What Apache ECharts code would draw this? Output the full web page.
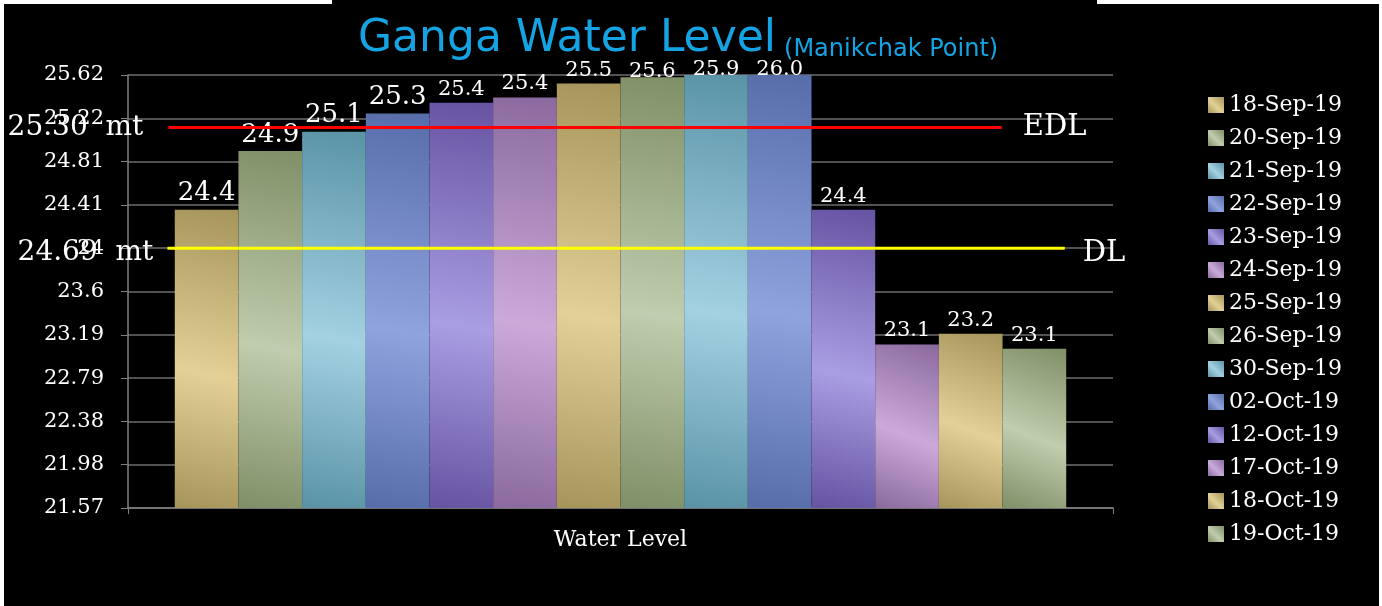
<!DOCTYPE html>
<html>
<head>
<meta charset="utf-8">
<title>Ganga Water Level</title>
<script src="https://cdn.jsdelivr.net/npm/echarts@6/dist/echarts.min.js"></script>
<style>
  html, body { margin: 0; padding: 0; background: #fff; }
  #chart { width: 1382px; height: 606px; }
</style>
</head>
<body>
<div id="chart"></div>
<script>
  // data
  const categories = ['Water Level']
  const dates = ['18-Sep-19', '20-Sep-19', '21-Sep-19', '22-Sep-19', '23-Sep-19', '24-Sep-19', '25-Sep-19',
    '26-Sep-19', '30-Sep-19', '02-Oct-19', '12-Oct-19', '17-Oct-19', '18-Oct-19', '19-Oct-19']
  const levels = [24.36, 24.91, 25.09, 25.26, 25.36, 25.41, 25.54, 25.6, 25.9, 26.0, 24.36, 23.1, 23.2, 23.06]
  const yTickLabels = ['21.57', '21.98', '22.38', '22.79', '23.19', '23.6', '24', '24.41', '24.81', '25.22', '25.62']

  // EDL / DL lines (drawn level, start/end along the plot in %, texts)
  const refNames = ['EDL', 'DL']
  const refLevels = [25.13, 24.0]
  const refStart = [4.1, 4.0]
  const refEnd = [88.7, 95.1]
  const refTexts = ['25.30  mt', '24.69  mt']

  const yMin = parseFloat(yTickLabels[0])
  const yMax = parseFloat(yTickLabels[yTickLabels.length - 1])
  const yInterval = (yMax - yMin) / (yTickLabels.length - 1)

  // dark / light pairs, repeating like the office theme
  const palette = [
    ['#a6955a', '#e2d096'],
    ['#7f8f66', '#c0cdae'],
    ['#5a93a6', '#a3d1e2'],
    ['#566daa', '#8fa3de'],
    ['#6653a2', '#a99de3'],
    ['#8a6a9e', '#c9aad9']
  ]
  const serif = 'DejaVu Serif'

  function barColor(i) {
    const c = palette[i % palette.length]
    return {
      type: 'linear', x: 0, y: 1, x2: 1, y2: 0,
      colorStops: [
        { offset: 0, color: c[0] },
        { offset: 0.45, color: c[1] },
        { offset: 1, color: c[0] }
      ]
    }
  }

  const barSeries = dates.map((d, i) => ({
    name: d,
    type: 'bar',
    xAxisIndex: 0,
    barGap: '0%',
    barCategoryGap: '9.5%',
    clip: true,
    data: [levels[i]],
    itemStyle: { color: barColor(i) },
    label: {
      show: true,
      position: 'top',
      // labels of bars cut at the top sit on the top line
      distance: levels[i] > yMax - 0.05 ? -5 : 3,
      color: '#fff',
      fontFamily: serif,
      fontSize: i < 4 ? 26 : 21,
      formatter: p => p.value.toFixed(1)
    }
  }))

  const lineColors = ['#ff0000', '#ffff00']
  const refSeries = refNames.map((n, i) => ({
    name: n,
    type: 'line',
    xAxisIndex: 1,
    z: 5,
    symbol: 'circle',
    symbolSize: 0.1,
    lineStyle: { color: lineColors[i], width: 3 },
    itemStyle: { color: lineColors[i] },
    silent: true,
    data: [
      { value: [refStart[i], refLevels[i]],
        label: { show: true, position: 'left', distance: i === 0 ? 25 : 14, offset: [0, i === 0 ? 0 : 5],
          formatter: refTexts[i], color: '#fff', fontFamily: serif, fontSize: 28 } },
      { value: [refEnd[i], refLevels[i]],
        label: { show: true, position: 'right', distance: i === 0 ? 21 : 18, offset: [0, i === 0 ? 0 : 5],
          formatter: n, color: '#fff', fontFamily: serif, fontSize: 29 } }
    ]
  }))

  const chart = echarts.init(document.getElementById('chart'))
  chart.setOption({
    backgroundColor: '#000',
    animation: false,
    title: {
      left: 353,
      top: 11,
      text: '{a|Ganga Water Level}{b|(Manikchak Point)}',
      textStyle: {
        fontWeight: 'normal',
        rich: {
          a: { fontFamily: 'DejaVu Sans', fontWeight: 'normal', fontSize: 44, color: '#14a4e4', verticalAlign: 'bottom', lineHeight: 46 },
          b: { fontFamily: 'DejaVu Sans', fontWeight: 'normal', fontSize: 24, color: '#14a4e4', verticalAlign: 'bottom', lineHeight: 46, padding: [0, 0, 0, 8] }
        }
      }
    },
    legend: {
      data: dates,
      orient: 'vertical',
      left: 1208,
      top: 94,
      padding: 0,
      icon: 'rect',
      itemWidth: 16,
      itemHeight: 16,
      itemGap: 11,
      textStyle: { color: '#fff', fontFamily: serif, fontSize: 22, lineHeight: 22 }
    },
    grid: { left: 128, right: 269, top: 75, bottom: 98 },
    xAxis: [{
      type: 'category',
      data: categories,
      axisLine: { lineStyle: { color: '#808080', width: 1.5 } },
      axisTick: { show: true, length: 6, lineStyle: { color: '#808080' } },
      axisLabel: { color: '#fff', fontFamily: serif, fontSize: 22, margin: 21 }
    }, {
      type: 'value',
      min: 0,
      max: 100,
      show: false
    }],
    yAxis: {
      type: 'value',
      min: yMin,
      max: yMax,
      interval: yInterval,
      axisLine: { show: true, lineStyle: { color: '#808080', width: 1.5 } },
      axisTick: { show: true, length: 7, lineStyle: { color: '#808080' } },
      splitLine: { lineStyle: { color: '#6e6e6e', width: 1.5 } },
      axisLabel: {
        color: '#fff',
        fontFamily: serif,
        fontSize: 21,
        margin: 24,
        formatter: v => yTickLabels[Math.round((v - yMin) / yInterval)] || ''
      }
    },
    graphic: [
      { type: 'rect', shape: { x: 0, y: 0, width: 332, height: 4 }, style: { fill: '#fff' }, z: 100 },
      { type: 'rect', shape: { x: 1097, y: 0, width: 285, height: 4 }, style: { fill: '#fff' }, z: 100 },
      { type: 'rect', shape: { x: 0, y: 0, width: 4, height: 606 }, style: { fill: '#fff' }, z: 100 },
      { type: 'rect', shape: { x: 1379, y: 0, width: 3, height: 606 }, style: { fill: '#fff' }, z: 100 }
    ],
    series: barSeries.concat(refSeries)
  })
</script>
</body>
</html>
